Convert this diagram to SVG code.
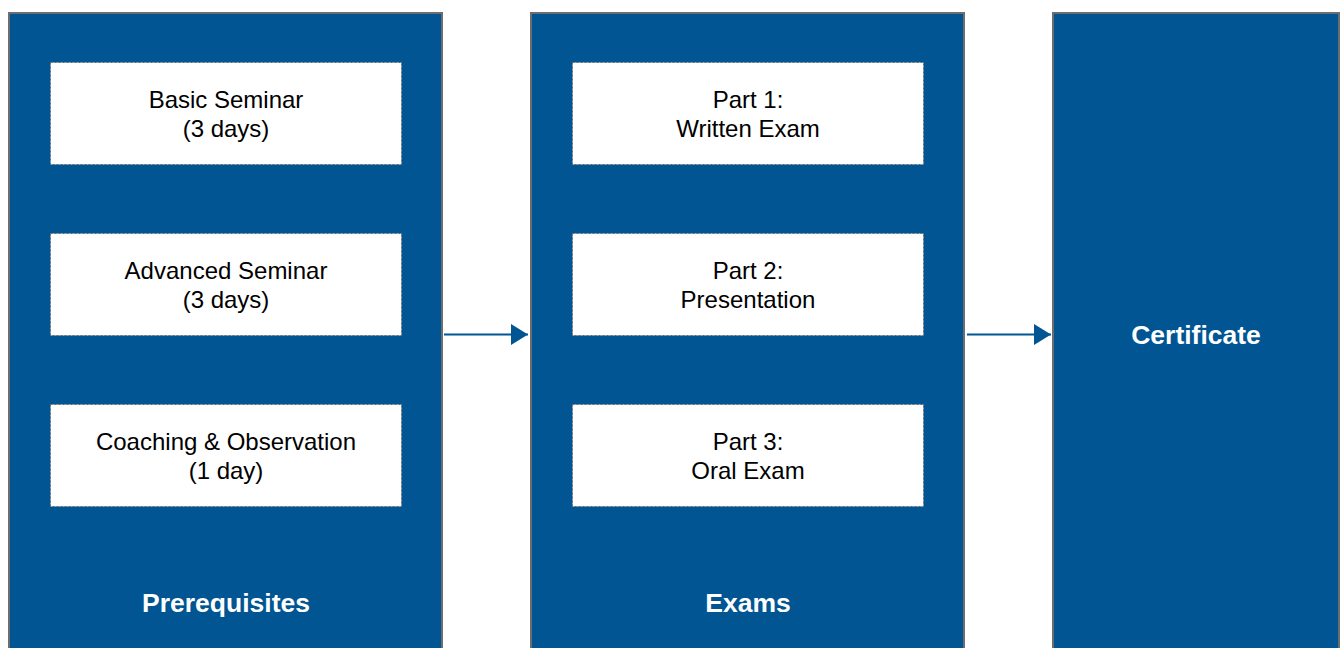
<svg xmlns="http://www.w3.org/2000/svg" width="1341" height="648" viewBox="0 0 1341 648">
<defs>
<style>
.col{fill:#005592;stroke:#6d6d6d;stroke-width:2}
.box{fill:#ffffff;stroke:#6d6d6d;stroke-width:1;stroke-dasharray:2 2}
.t{font-family:"Liberation Sans",Arial,sans-serif;font-size:24px;fill:#000;text-anchor:middle}
.h{font-family:"Liberation Sans",Arial,sans-serif;font-size:26.5px;font-weight:bold;fill:#fff;text-anchor:middle}
.conn{stroke:#005592;stroke-width:2;fill:none}
</style>
<marker id="ah" markerWidth="17" markerHeight="21" refX="17" refY="10.5" orient="auto" markerUnits="userSpaceOnUse">
<path d="M0,0 L17,10.5 L0,21 Z" fill="#005592"/>
</marker>
</defs>
<rect width="1341" height="648" fill="#ffffff"/>
<g id="prerequisites">
<rect class="col" x="9" y="13" width="433" height="645"/>
<text class="h" x="226" y="612">Prerequisites</text>
</g>
<g id="basic-seminar">
<rect class="box" x="50.5" y="62.5" width="351" height="102"/>
<text class="t" x="226" y="108">Basic Seminar</text>
<text class="t" x="226" y="137">(3 days)</text>
</g>
<g id="advanced-seminar">
<rect class="box" x="50.5" y="233.5" width="351" height="102"/>
<text class="t" x="226" y="279">Advanced Seminar</text>
<text class="t" x="226" y="308">(3 days)</text>
</g>
<g id="coaching">
<rect class="box" x="50.5" y="404.5" width="351" height="102"/>
<text class="t" x="226" y="450">Coaching &amp; Observation</text>
<text class="t" x="226" y="479">(1 day)</text>
</g>
<g id="exams">
<rect class="col" x="531" y="13" width="433" height="645"/>
<text class="h" x="748" y="612">Exams</text>
</g>
<g id="part1">
<rect class="box" x="572.5" y="62.5" width="351" height="102"/>
<text class="t" x="748" y="108">Part 1:</text>
<text class="t" x="748" y="137">Written Exam</text>
</g>
<g id="part2">
<rect class="box" x="572.5" y="233.5" width="351" height="102"/>
<text class="t" x="748" y="279">Part 2:</text>
<text class="t" x="748" y="308">Presentation</text>
</g>
<g id="part3">
<rect class="box" x="572.5" y="404.5" width="351" height="102"/>
<text class="t" x="748" y="450">Part 3:</text>
<text class="t" x="748" y="479">Oral Exam</text>
</g>
<g id="certificate">
<rect class="col" x="1053" y="13" width="286" height="645"/>
<text class="h" x="1196" y="344">Certificate</text>
</g>
<g id="connectors">
<line class="conn" x1="444" y1="334.5" x2="528" y2="334.5" marker-end="url(#ah)"/>
<line class="conn" x1="967" y1="334.5" x2="1051" y2="334.5" marker-end="url(#ah)"/>
</g>
</svg>
